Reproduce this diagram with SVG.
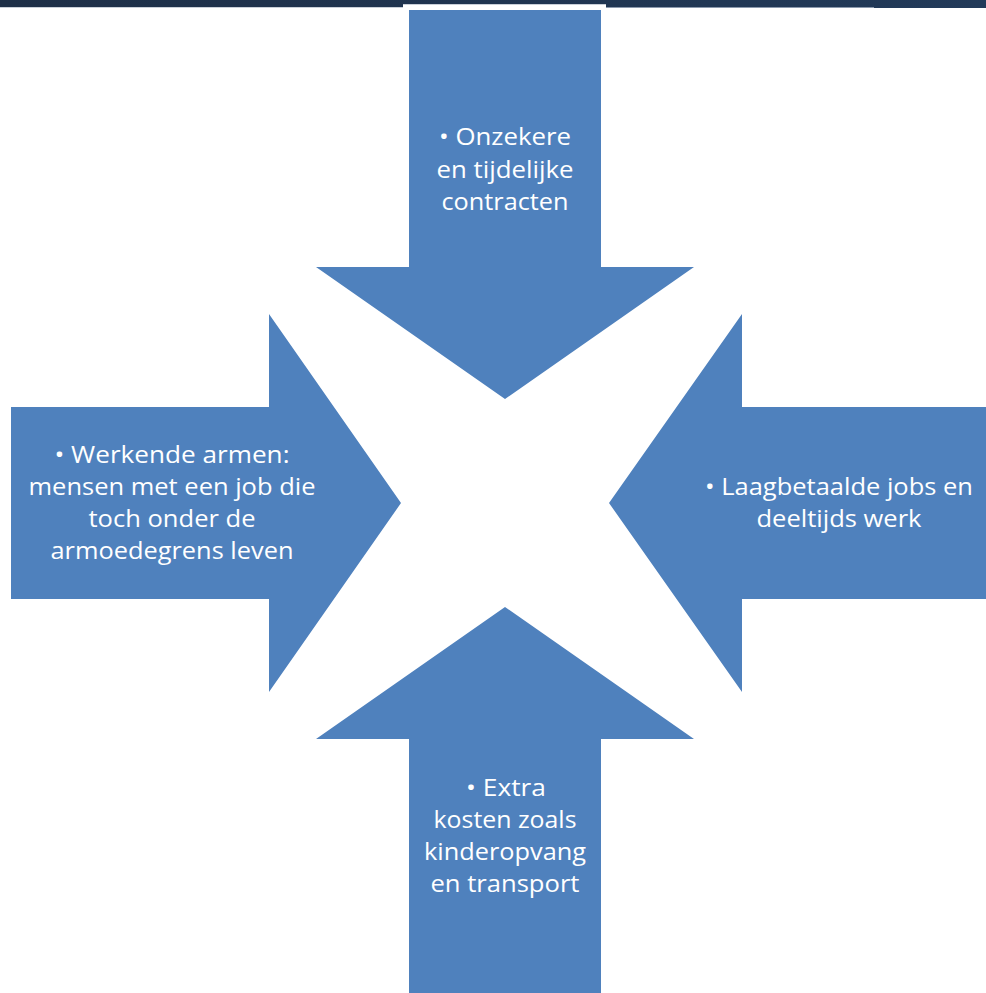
<svg xmlns="http://www.w3.org/2000/svg" width="986" height="993" viewBox="0 0 986 993">
  <defs>
    <linearGradient id="bar" x1="0" y1="0" x2="1" y2="0">
      <stop offset="0" stop-color="#1E2F47"/>
      <stop offset="1" stop-color="#223A59"/>
    </linearGradient>
  </defs>
  <style>
    .arrow { fill: #4F81BD; }
    .lbl { font-family: "Open Sans", "Noto Sans", "Liberation Sans", sans-serif; font-size: 24px; fill: #FFFFFF; text-anchor: middle; }
  </style>
  <rect x="0" y="0" width="986" height="993" fill="#FFFFFF"/>
  <g id="topbar">
    <rect x="0" y="0" width="986" height="7" fill="url(#bar)"/>
    <rect x="0" y="7" width="403" height="1" fill="#C9CFD8"/>
    <rect x="874" y="7" width="112" height="1" fill="#223A59"/>
    <rect x="606" y="7" width="268" height="1" fill="#8A98AC"/>
    <rect x="403" y="4" width="203" height="5" fill="#FFFFFF"/>
    <rect x="403" y="4" width="203" height="1" fill="#C9CFD8"/>
  </g>
  <g id="connectors"></g>
  <g id="arrow-top">
    <polygon class="arrow" points="409,10 601,10 601,267 694,267 505,399 316,267 409,267"/>
    <text class="lbl" x="505" y="145" textLength="132" lengthAdjust="spacingAndGlyphs">• Onzekere</text>
    <text class="lbl" x="505" y="178" textLength="137" lengthAdjust="spacingAndGlyphs">en tijdelijke</text>
    <text class="lbl" x="505" y="210" textLength="127" lengthAdjust="spacingAndGlyphs">contracten</text>
  </g>
  <g id="arrow-left">
    <polygon class="arrow" points="11,407 269,407 269,314 401,503 269,692 269,599 11,599"/>
    <text class="lbl" x="172" y="463" textLength="235" lengthAdjust="spacingAndGlyphs">• Werkende armen:</text>
    <text class="lbl" x="172" y="495" textLength="287" lengthAdjust="spacingAndGlyphs">mensen met een job die</text>
    <text class="lbl" x="172" y="527" textLength="167" lengthAdjust="spacingAndGlyphs">toch onder de</text>
    <text class="lbl" x="172" y="559" textLength="243" lengthAdjust="spacingAndGlyphs">armoedegrens leven</text>
  </g>
  <g id="arrow-right">
    <polygon class="arrow" points="986,407 742,407 742,314 609,503 742,692 742,599 986,599"/>
    <text class="lbl" x="839" y="495" textLength="268" lengthAdjust="spacingAndGlyphs">• Laagbetaalde jobs en</text>
    <text class="lbl" x="839" y="527" textLength="165" lengthAdjust="spacingAndGlyphs">deeltijds werk</text>
  </g>
  <g id="arrow-bottom">
    <polygon class="arrow" points="409,993 601,993 601,739 694,739 505,607 316,739 409,739"/>
    <text class="lbl" x="506" y="796" textLength="80" lengthAdjust="spacingAndGlyphs">• Extra</text>
    <text class="lbl" x="505" y="828" textLength="143" lengthAdjust="spacingAndGlyphs">kosten zoals</text>
    <text class="lbl" x="505" y="860" textLength="162" lengthAdjust="spacingAndGlyphs">kinderopvang</text>
    <text class="lbl" x="505" y="892" textLength="149" lengthAdjust="spacingAndGlyphs">en transport</text>
  </g>
</svg>
